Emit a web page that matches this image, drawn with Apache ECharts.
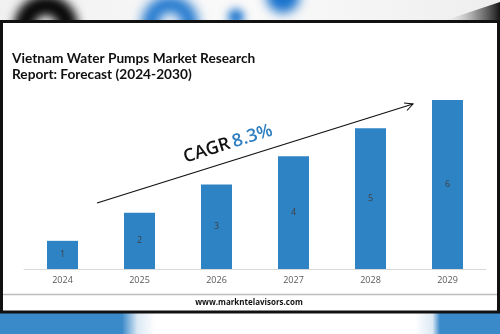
<!DOCTYPE html>
<html><head><meta charset="utf-8">
<script src="https://cdn.jsdelivr.net/npm/echarts@6/dist/echarts.min.js"></script>
<style>html,body{margin:0;padding:0;background:#fff}#c{width:500px;height:334px}</style>
</head><body><div id="c"></div>
<script>
var categories = ['2024','2025','2026','2027','2028','2029'];
var values = [1, 2, 3, 4, 5, 6];
var titleText = 'Vietnam Water Pumps Market Research\nReport: Forecast (2024-2030)';
var cagrLabel = 'CAGR';
var cagrValue = '8.3%';
var sourceText = 'www.markntelavisors.com';

var chart = echarts.init(document.getElementById('c'));
var ang = Math.atan2(99, 316);
var OFF = 1000;
function blurCircle(cx, cy, r, color, blur, strokeW){
  var st = {shadowBlur: blur, shadowColor: color, shadowOffsetY: OFF};
  if (strokeW) { st.fill = null; st.stroke = '#000'; st.lineWidth = strokeW; }
  else { st.fill = '#000'; }
  return {type:'circle', shape:{cx:cx, cy:cy - OFF, r:r}, style:st, z:-4};
}
chart.setOption({
  backgroundColor: '#ffffff',
  animation: false,
  grid: {left: 24, right: 14, top: 100, bottom: 65},
  xAxis: {
    type: 'category', data: categories,
    axisLine: {lineStyle: {color: '#d9d9d9', width: 1}},
    axisTick: {show: false},
    axisLabel: {color: '#595959', fontSize: 9, margin: 7, fontFamily: 'Open Sans'}
  },
  yAxis: {type: 'value', min: 0, max: 6, show: false, splitLine: {show: false}},
  series: [{
    type: 'bar', data: values, barWidth: 31,
    itemStyle: {color: '#2e83c4'},
    label: {show: true, position: 'inside', color: '#404040', fontSize: 9, fontFamily: 'Open Sans'}
  }],
  graphic: [
    // top blurred strip
    {type:'rect', shape:{x:0,y:0,width:500,height:22}, style:{fill:{type:'linear',x:0,y:0,x2:1,y2:0,colorStops:[{offset:0,color:'#f0f0f0'},{offset:0.5,color:'#fafafa'},{offset:1,color:'#eeeeee'}]}}, z:-5},
    blurCircle(46, 27, 22, 'rgba(0,0,0,1)', 11, 16),
    blurCircle(46, 27, 22, 'rgba(0,0,0,0.6)', 11, 16),
    blurCircle(170, 24, 20, 'rgba(25,115,205,1)', 12, 16),
    blurCircle(236, 17, 8, 'rgba(25,115,205,1)', 9),
    blurCircle(283, -4, 17, 'rgba(25,115,205,1)', 11),
    {type:'polygon', shape:{points:[[440,22],[500,2],[500,22]]}, style:{fill:{type:'linear',x:0,y:0,x2:1,y2:0,colorStops:[{offset:0,color:'rgba(255,255,255,0)'},{offset:0.6,color:'rgba(110,110,110,0.7)'},{offset:1,color:'rgba(20,20,20,1)'}]}}, z:-3},
    // white panel interior (hides blur spill)
    {type:'rect', shape:{x:0,y:22,width:500,height:291}, style:{fill:'#ffffff'}, z:-3},
    // bottom strip
    {type:'rect', shape:{x:0,y:313,width:500,height:21}, style:{fill:{type:'linear',x:0,y:0,x2:1,y2:0,colorStops:[
      {offset:0,color:'#3a89c9'},{offset:0.244,color:'#3a89c9'},{offset:0.275,color:'#dce9f4'},{offset:0.31,color:'#ffffff'},
      {offset:0.83,color:'#ffffff'},{offset:0.865,color:'#dce9f4'},{offset:0.88,color:'#3a89c9'},{offset:1,color:'#3a89c9'}]}}, z:-3},
    // panel frame
    {type:'rect', shape:{x:1.5,y:21.5,width:497,height:290.5}, style:{fill:null, stroke:'#111', lineWidth:3}, z:10},
    {type:'line', shape:{x1:3,y1:294.5,x2:497,y2:294.5}, style:{stroke:'#bdbdbd', lineWidth:1.5}, z:10},
    // title
    {type:'text', left:12, top:51, style:{text:titleText, fill:'#111', font:'bold 13.7px Lato', lineHeight:16}, z:10},
    // arrow
    {type:'line', shape:{x1:97,y1:203,x2:413,y2:104}, style:{stroke:'#111', lineWidth:1.3}, z:10},
    {type:'polyline', shape:{points:[[404,103],[413,104],[407,110.5]]}, style:{stroke:'#111', lineWidth:1.1, fill:null}, z:10},
    {type:'text', x:228, y:144, rotation:ang, style:{
      text:'{a|'+cagrLabel+'} {b|'+cagrValue+'}', align:'center', verticalAlign:'middle',
      rich:{a:{fill:'#111', font:'600 18px "Open Sans"'}, b:{fill:'#2e7fc1', font:'600 18px "Open Sans"'}}}, z:10},
    // source
    {type:'text', x:249, y:303, style:{text:sourceText, fill:'#111', font:'bold 8px "Open Sans"', align:'center', verticalAlign:'middle'}, z:10}
  ]
});
</script></body></html>
